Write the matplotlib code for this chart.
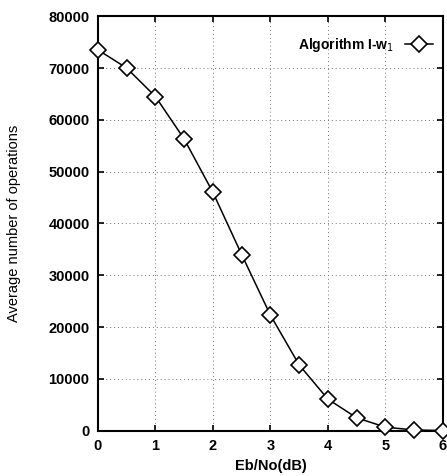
import numpy as np
import matplotlib
matplotlib.use('Agg')
import matplotlib.pyplot as plt

# Eb/No (dB) and average number of operations
ebno = [0.0, 0.5, 1.0, 1.5, 2.0, 2.5, 3.0, 3.5, 4.0, 4.5, 5.0, 5.5, 6.0]
avg_ops = [73500, 70000, 64500, 56300, 46000, 34000, 22300, 12700, 6100, 2500, 700, 150, 50]

xticks = [0, 1, 2, 3, 4, 5, 6]
yticks = [0, 10000, 20000, 30000, 40000, 50000, 60000, 70000, 80000]

plt.rcParams['font.family'] = ['Liberation Sans', 'DejaVu Sans']

fig = plt.figure(figsize=(4.47, 4.76), dpi=100)
ax = fig.add_axes([0.219, 0.095, 0.772, 0.871])

ax.plot(ebno, avg_ops, color='black', lw=1.1, marker='D', ms=8.5,
        mfc='white', mec='black', mew=1.2, clip_on=False, zorder=3,
        label=r'Algorithm I-w$_1$')

ax.set_xlim(0, 6)
ax.set_ylim(0, 80000)
ax.set_xticks(xticks)
ax.set_yticks(yticks)
ax.set_xticklabels([str(t) for t in xticks], fontsize=10.5, fontweight='bold')
ax.set_yticklabels([str(t) for t in yticks], fontsize=10.5, fontweight='bold')
ax.set_xlabel('Eb/No(dB)', fontsize=10.5, fontweight='bold', labelpad=4)
ax.set_ylabel('Average number of operations', fontsize=10.5, labelpad=20)

ax.grid(True, linestyle=(0, (1, 3)), color='0.45', lw=0.7)
ax.tick_params(axis='both', which='both', direction='in', length=4, width=1.2,
               top=True, right=True, pad=6)
for sp in ax.spines.values():
    sp.set_linewidth(1.5)

ax.legend(loc='upper right', bbox_to_anchor=(1.01, 0.985), frameon=False,
          markerfirst=False, prop={'size': 10, 'weight': 'bold'},
          handlelength=2.0, borderaxespad=0.6, handletextpad=0.8)

fig.savefig('out.png', dpi=100)
